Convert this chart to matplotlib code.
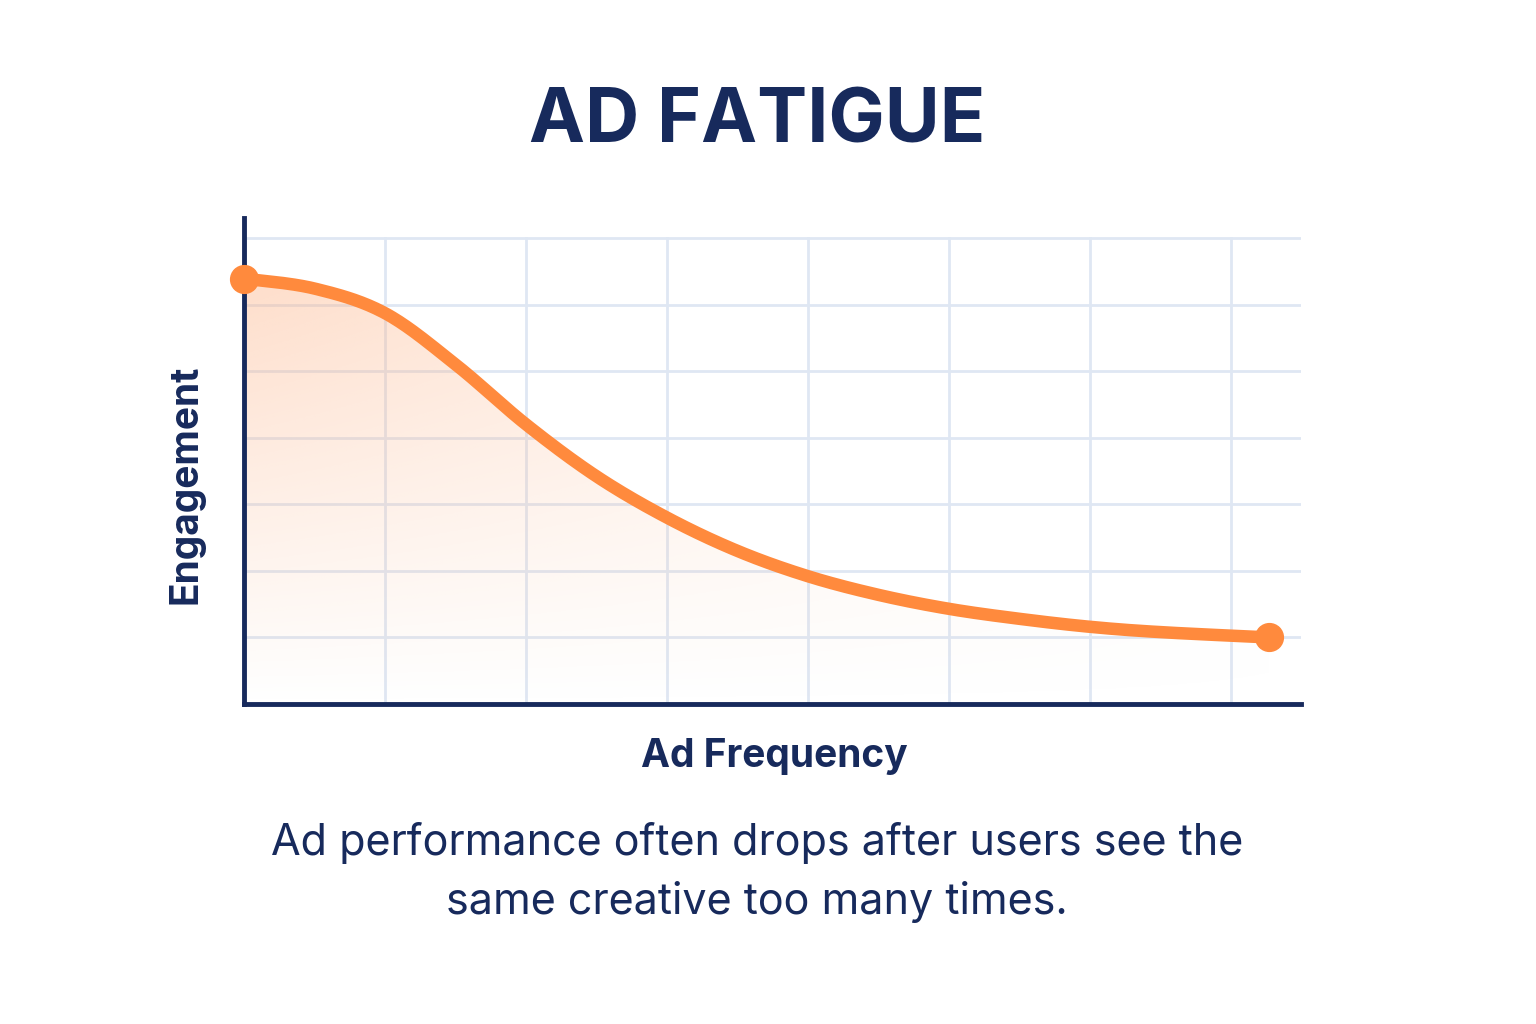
import numpy as np
import matplotlib
matplotlib.use("Agg")
from matplotlib import pyplot as plt
from matplotlib.path import Path
from matplotlib.patches import PathPatch

# valores (eixo x: frequencia, eixo y: engajamento)
freq = [0, 0.5, 1, 1.5, 2, 2.5, 3, 3.5, 4, 4.5, 5, 5.5, 6, 6.5, 7.27]
engajamento = [6.39, 6.24, 5.87, 5.1, 4.2, 3.42, 2.8, 2.3, 1.92, 1.64, 1.43, 1.28, 1.16, 1.08, 1.0]

navy = "#172a5c"
laranja = "#ff8a3d"
plt.rcParams["font.family"] = "Inter"

# suaviza a linha (Catmull-Rom) so para desenhar
def suave(x, y, n=30):
    p = np.column_stack([x, y])
    p = np.vstack([p[0], p, p[-1]])
    out = []
    for i in range(1, len(p) - 2):
        p0, p1, p2, p3 = p[i - 1], p[i], p[i + 1], p[i + 2]
        for t in np.linspace(0, 1, n, endpoint=False):
            out.append(0.5 * ((2 * p1) + (-p0 + p2) * t + (2 * p0 - 5 * p1 + 4 * p2 - p3) * t**2
                              + (-p0 + 3 * p1 - 3 * p2 + p3) * t**3))
    out.append(p[-2])
    out = np.array(out)
    return out[:, 0], out[:, 1]

xs, ys = suave(freq, engajamento)

fig = plt.figure(figsize=(15.36, 10.24), dpi=100)
ax = fig.add_axes([0.159, 0.3125, 0.688, 0.4746])
ax.set_xlim(0, 7.5)
ax.set_ylim(0, 7.3)

for gx in range(1, 8):
    ax.plot([gx, gx], [0, 7], color="#dfe7f3", lw=2, zorder=1)
for gy in range(1, 8):
    ax.plot([0, 7.5], [gy, gy], color="#dfe7f3", lw=2, zorder=1)

# preenchimento em degrade
gx_, gy_ = np.meshgrid(np.linspace(0, 1, 200), np.linspace(0, 1, 200))
alpha = np.clip(0.28 * (1 - gx_) * gy_ + 0.04 * gy_, 0, 1)
img = np.zeros((200, 200, 4))
img[..., :3] = matplotlib.colors.to_rgb("#fdb58a")
img[..., 3] = alpha * 1.4
im = ax.imshow(img, extent=[0, 7.27, 0, 6.4], origin="lower", aspect="auto", zorder=2)
verts = list(zip(xs, ys)) + [(xs[-1], 0), (0, 0)]
patch = PathPatch(Path(verts), transform=ax.transData, facecolor="none", edgecolor="none")
ax.add_patch(patch)
im.set_clip_path(patch)

ax.plot(xs, ys, color=laranja, lw=9, solid_capstyle="round", zorder=3)
ax.plot([freq[0], freq[-1]], [engajamento[0], engajamento[-1]], "o", color=laranja, ms=20,
        zorder=6, clip_on=False)

for s in ["top", "right"]:
    ax.spines[s].set_visible(False)
for s in ["left", "bottom"]:
    ax.spines[s].set_color(navy)
    ax.spines[s].set_linewidth(3.5)
ax.set_xticks([])
ax.set_yticks([])
ax.patch.set_alpha(0)
for s in ax.spines.values():
    s.set_zorder(5)

fig.text(0.493, 0.88, "AD FATIGUE", ha="center", va="center", fontsize=54, fontweight="bold", color=navy)
fig.text(0.121, 0.527, "Engagement", ha="center", va="center", rotation=90, fontsize=28, fontweight="bold", color=navy)
fig.text(0.504, 0.261, "Ad Frequency", ha="center", va="center", fontsize=28, fontweight="bold", color=navy)
fig.text(0.493, 0.148, "Ad performance often drops after users see the\nsame creative too many times.",
         ha="center", va="center", fontsize=31, color=navy, linespacing=1.5)

fig.savefig("out.png", dpi=100, facecolor="white")
